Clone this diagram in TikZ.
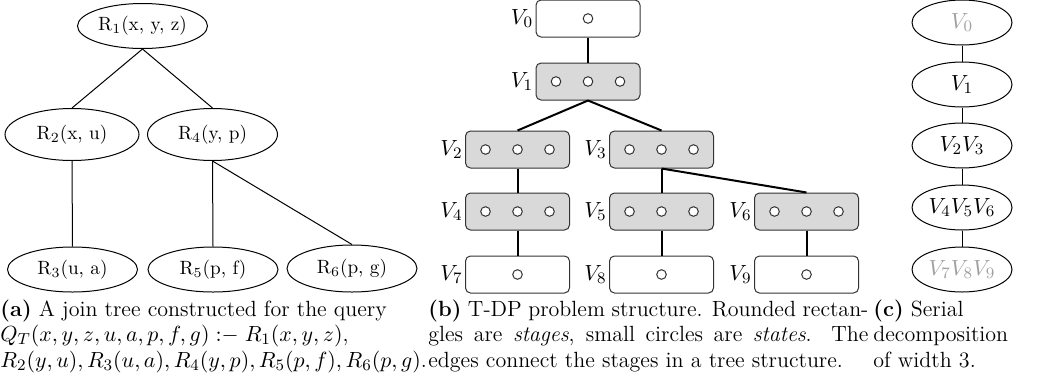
\documentclass[tikz,border=0pt]{standalone}
\usepackage{amsmath}
\usepackage{tikz}
\usetikzlibrary{shapes.geometric}
\usepackage{xcolor}

\definecolor{stagegray}{RGB}{217,217,217}
\definecolor{fadedtext}{RGB}{160,160,160}

\begin{document}
\begin{tikzpicture}[x=0.5pt, y=-0.5pt,
    relation/.style={ellipse, draw, line width=0.5pt, inner sep=0pt, minimum width=65pt, minimum height=22.5pt, font=\fontsize{9.6}{11}\selectfont},
    stagebox/.style={rectangle, draw=black!80, line width=0.5pt, rounded corners=2.5pt, minimum width=52pt, minimum height=18.5pt, inner sep=0pt, label distance=1.5pt},
    fullstage/.style={stagebox, fill=stagegray},
    emptystage/.style={stagebox, fill=white},
    stagelabel/.style={inner sep=1pt, font=\fontsize{11}{13}\selectfont},
    state/.style={draw=black!80, fill=white, line width=0.5pt},
    serial/.style={ellipse, draw, line width=0.5pt, inner sep=0pt, minimum width=50pt, minimum height=22.5pt, font=\fontsize{11}{13}\selectfont},
    treeedge/.style={line width=0.5pt},
    stageedge/.style={line width=1pt},
    caption/.style={anchor=base west, inner sep=0pt, align=left, font=\fontsize{11}{12.75}\selectfont}
  ]
  % Variables
  \def \colA {517.5}
  \def \colB {661.5}
  \def \colC {806.5}
  \def \midx {588}
  \def \capy {367}

  \useasboundingbox (0,0) rectangle (1048,386);

  % Join tree
  \node[relation] (r1) at (142.5,26) {R$_1$(x, y, z)};
  \node[relation, minimum width=67pt, minimum height=26pt] (r2) at (72,134.5) {R$_2$(x, u)};
  \node[relation, minimum height=26pt] (r4) at (212.5,134.5) {R$_4$(y, p)};
  \node[relation] (r3) at (72.5,269.5) {R$_3$(u, a)};
  \node[relation] (r5) at (213,269.5) {R$_5$(p, f)};
  \node[relation, minimum height=23.5pt] (r6) at (352,268.5) {R$_6$(p, g)};

  \draw[treeedge] (r1.south) -- (r2.north);
  \draw[treeedge] (r1.south) -- (r4.north);
  \draw[treeedge] (r2.south) -- (r3.north);
  \draw[treeedge] (r4.south) -- (r5.north);
  \draw[treeedge] (r4.south) -- (r6.north);

  % Stages
  \node[emptystage, label={[stagelabel]left:$V_0$}] (v0) at (\midx,18.5) {};
  \node[fullstage, label={[stagelabel]left:$V_1$}] (v1) at (\midx,81.5) {};
  \node[fullstage, label={[stagelabel]left:$V_2$}] (v2) at (\colA,149.5) {};
  \node[fullstage, label={[stagelabel]left:$V_3$}] (v3) at (\colB,149.5) {};
  \node[fullstage, label={[stagelabel]left:$V_4$}] (v4) at (\colA,211.5) {};
  \node[fullstage, label={[stagelabel]left:$V_5$}] (v5) at (\colB,211.5) {};
  \node[fullstage, label={[stagelabel]left:$V_6$}] (v6) at (\colC,211.5) {};
  \node[emptystage, label={[stagelabel]left:$V_7$}] (v7) at (\colA,274.5) {};
  \node[emptystage, label={[stagelabel]left:$V_8$}] (v8) at (\colB,274.5) {};
  \node[emptystage, label={[stagelabel]left:$V_9$}] (v9) at (\colC,274.5) {};

  % States
  \foreach \s in {v1,v2,v3,v4,v5,v6}
    \foreach \dx in {-32,0,32}
      \draw[state] (\s.center) ++(\dx,0) circle[radius=2.4pt];
  \foreach \s in {v0,v7,v8,v9}
    \draw[state] (\s.center) circle[radius=2.4pt];

  \draw[stageedge] (v0.south) -- (v1.north);
  \draw[stageedge] (v1.south) -- (v2.north);
  \draw[stageedge] (v1.south) -- (v3.north);
  \draw[stageedge] (v2.south) -- (v4.north);
  \draw[stageedge] (v4.south) -- (v7.north);
  \draw[stageedge] (v3.south) -- (v5.north);
  \draw[stageedge] (v3.south) -- (v6.north);
  \draw[stageedge] (v5.south) -- (v8.north);
  \draw[stageedge] (v6.south) -- (v9.north);

  % Serial decomposition
  \node[serial, text=fadedtext] (s0) at (962,22.5) {$V_0$};
  \node[serial] (s1) at (962,84.5) {$V_1$};
  \node[serial] (s2) at (962,145.5) {$V_2V_3$};
  \node[serial] (s3) at (962,207.5) {$V_4V_5V_6$};
  \node[serial, text=fadedtext] (s4) at (962,269.5) {$V_7V_8V_9$};

  \draw[treeedge] (s0) -- (s1);
  \draw[treeedge] (s1) -- (s2);
  \draw[treeedge] (s2) -- (s3);
  \draw[treeedge] (s3) -- (s4);

  % Captions (anchored at the last line)
  \node[caption] (capa) at (0,\capy) {\textbf{(a)} A join tree constructed for the query\\
    $Q_T(x,y,z,u,a,p,f,g) \mathrel{{:}{-}} R_1(x,y,z)$,\\
    $R_2(y,u), R_3(u,a), R_4(y,p), R_5(p,f), R_6(p,g)$.};
  \node[caption] (capb) at (428,\capy) {\makebox[220pt][s]{\textbf{(b)} T-DP problem structure. Rounded rectan-}\\
    \makebox[220pt][s]{gles are \emph{stages}, small circles are \emph{states}. The}\\
    edges connect the stages in a tree structure.};
  \node[caption] (capc) at (873,\capy) {\textbf{(c)} Serial\\ decomposition\\ of width 3.};

\end{tikzpicture}
\end{document}
